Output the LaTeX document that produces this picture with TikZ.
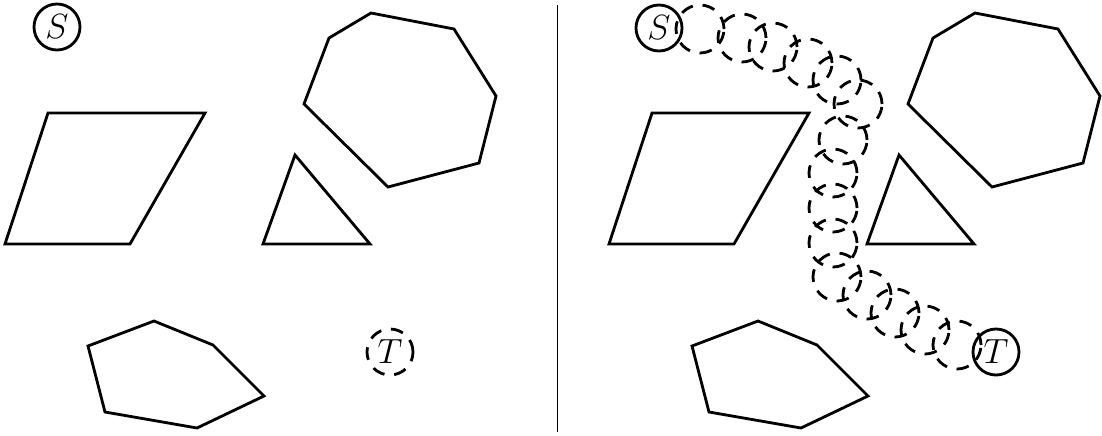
\documentclass[tikz,border=0pt]{standalone}
\usepackage{tikz}
\usetikzlibrary{positioning}

\begin{document}
\begin{tikzpicture}[x=0.025cm, y=-0.025cm, line width=2pt, line join=miter,
  endpt/.style={circle, draw, inner sep=0pt, minimum size=1.15cm,
    font=\fontsize{25}{28}\selectfont},
  ghost/.style={dashed, dash pattern=on 9pt off 7pt}]

% canvas in pixels of the original: x in [0,1102], y in [0,435] (y down)
\useasboundingbox (0,0) rectangle (1102,435);

%% ── divider ──────────────────────────────────────────────────────
\draw[line width=0.6pt] (557,5) -- (557,432);

%% ── obstacles, left panel and the same shifted right ─────────────
\foreach \dx in {0,604}{
  \begin{scope}[xshift=\dx*0.025cm]
    \draw (48,113) -- (205,113) -- (130,244) -- (5,244) -- cycle;
    \draw (295,155) -- (370,244) -- (263,244) -- cycle;
    \draw (371,13) -- (454,29) -- (496,96) -- (479,163) -- (388,187)
      -- (304,104) -- (329,38) -- cycle;
    \draw (88,346) -- (154,321) -- (213,345) -- (264,396) -- (197,428)
      -- (105,412) -- cycle;
  \end{scope}
}

%% ── start / goal ─────────────────────────────────────────────────
\node[endpt] (s0) at (57,27) {$S$};
\node[endpt, ghost] (t0) at (390,352) {$T$};
\node[endpt] (s1) at (659,28) {$S$};
\node[endpt] (t1) at (996,352) {$T$};

%% ── swept disc positions along the path ──────────────────────────
\foreach \p in {(700,29),(742,38),(773,47),(808,63),(837,80),(858,104),
  (843,140),(833,173),(833,208),(833,243),(837,277),(867,295),(895,313),
  (925,330),(957,345)}{
  \draw[ghost] \p circle[radius=0.6cm];
}

\end{tikzpicture}
\end{document}
